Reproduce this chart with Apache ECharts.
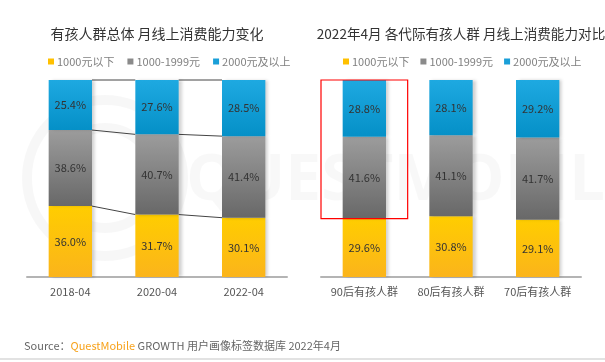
<!DOCTYPE html>
<html><head><meta charset="utf-8">
<script src="https://cdn.jsdelivr.net/npm/echarts@6/dist/echarts.min.js"></script>
<style>html,body{margin:0;padding:0;background:#fff}#c{width:605px;height:362px}</style>
</head><body><div id="c"></div>
<script>
var seriesNames = ['1000元以下', '1000-1999元', '2000元及以上'];
var leftCategories = ['2018-04', '2020-04', '2022-04'];
var leftLow = [36.0, 31.7, 30.1];
var leftMid = [38.6, 40.7, 41.4];
var leftHigh = [25.4, 27.6, 28.5];
var rightCategories = ['90后有孩人群', '80后有孩人群', '70后有孩人群'];
var rightLow = [29.6, 30.8, 29.1];
var rightMid = [41.6, 41.1, 41.7];
var rightHigh = [28.8, 28.1, 29.2];
var highlightIndex = 0;

var FONT = '"Noto Sans CJK SC", "Noto Sans", sans-serif';
function grad(a, b) {
  return new echarts.graphic.LinearGradient(0, 0, 0, 1, [{offset: 0, color: a}, {offset: 1, color: b}]);
}
var fills = [grad('#ffcd00', '#fbb41b'), grad('#9c9c9c', '#686868'), grad('#1ea9e1', '#0590c7')];
var solid = ['#ffc000', '#8a8a8a', '#1a9fd8'];

function barSeries(name, data, k, axisIdx) {
  return {
    type: 'bar', name: name, stack: 's' + axisIdx, xAxisIndex: axisIdx, yAxisIndex: axisIdx,
    barWidth: '50%', data: data,
    itemStyle: {color: fills[k], shadowColor: 'rgba(0,0,0,0.18)', shadowBlur: 3, shadowOffsetX: 3},
    label: {show: true, position: 'inside', fontFamily: FONT, fontSize: 11, color: '#333',
      formatter: function (p) { return p.value.toFixed(1) + '%'; }},
    z: 3
  };
}

var connData = [];
for (var i = 0; i < leftCategories.length - 1; i++) {
  connData.push([i, leftLow[i], leftLow[i] + leftMid[i], leftLow[i] + leftMid[i] + leftHigh[i],
                 leftLow[i + 1], leftLow[i + 1] + leftMid[i + 1], leftLow[i + 1] + leftMid[i + 1] + leftHigh[i + 1]]);
}

var option = {
  animation: false,
  title: [
    {text: '有孩人群总体 月线上消费能力变化', left: 152, textAlign: 'center', top: 22,
      textStyle: {fontFamily: FONT, fontSize: 14, fontWeight: 'normal', color: '#333'}},
    {text: '2022年4月 各代际有孩人群 月线上消费能力对比', left: 456, textAlign: 'center', top: 22,
      textStyle: {fontFamily: FONT, fontSize: 13.6, fontWeight: 'normal', color: '#333'}}
  ],
  legend: [
    {left: 43, top: 51, itemWidth: 6, itemHeight: 6, itemGap: 13, icon: 'rect',
      textStyle: {fontFamily: FONT, fontSize: 11, color: '#808080', padding: [0, 0, 0, -2]},
      data: seriesNames.map(function (n, k) { return {name: n, itemStyle: {color: solid[k]}}; })},
    {left: 338, top: 51, itemWidth: 6, itemHeight: 6, itemGap: 11, icon: 'rect',
      textStyle: {fontFamily: FONT, fontSize: 11, color: '#808080', padding: [0, 0, 0, -2]},
      data: seriesNames.map(function (n, k) { return {name: n, itemStyle: {color: solid[k]}}; })}
  ],
  grid: [
    {left: 27, width: 260, top: 80, height: 197},
    {left: 321, width: 260, top: 80, height: 197}
  ],
  xAxis: [0, 1].map(function (g) {
    return {type: 'category', gridIndex: g, data: g === 0 ? leftCategories : rightCategories,
      axisLine: {lineStyle: {color: '#b4b4b4', width: 2}}, axisTick: {show: false},
      axisLabel: {interval: 0, fontFamily: FONT, fontSize: 11, color: '#555', margin: 9}};
  }),
  yAxis: [0, 1].map(function (g) {
    return {type: 'value', gridIndex: g, min: 0, max: 100, show: false, splitLine: {show: false}};
  }),
  graphic: [
    {type: 'circle', shape: {cx: 105, cy: 178, r: 78}, style: {fill: 'none', stroke: 'rgba(0,0,0,0.03)', lineWidth: 10}, z: -10},
    {type: 'circle', shape: {cx: 105, cy: 178, r: 50}, style: {fill: 'none', stroke: 'rgba(0,0,0,0.03)', lineWidth: 10}, z: -10},
    {type: 'text', left: 186, top: 150, z: -10,
      style: {text: 'QUESTMOBILE', fontFamily: '"Open Sans", sans-serif', fontSize: 64, fontWeight: 'bold', fill: 'rgba(0,0,0,0.028)'}},
    {type: 'text', left: 24, top: 340,
      style: {rich: {a: {fontFamily: FONT, fontSize: 11, fill: '#666'}, b: {fontFamily: FONT, fontSize: 11, fill: '#f7a21b'}},
        text: '{a|Source：}{b|QuestMobile}{a| GROWTH 用户画像标签数据库 2022年4月}'}},
    {type: 'rect', shape: {x: 0, y: 358, width: 605, height: 2}, style: {fill: '#e2e2e2'}}
  ],
  series: [
    barSeries(seriesNames[0], leftLow, 0, 0),
    barSeries(seriesNames[1], leftMid, 1, 0),
    barSeries(seriesNames[2], leftHigh, 2, 0),
    barSeries(seriesNames[0], rightLow, 0, 1),
    barSeries(seriesNames[1], rightMid, 1, 1),
    barSeries(seriesNames[2], rightHigh, 2, 1),
    {type: 'custom', xAxisIndex: 0, yAxisIndex: 0, data: connData, z: 2, silent: true,
      renderItem: function (params, api) {
        var idx = api.value(0);
        var half = api.size([1, 0])[0] * 0.25;
        var kids = [];
        for (var j = 0; j < 3; j++) {
          var p1 = api.coord([idx, api.value(1 + j)]);
          var p2 = api.coord([idx + 1, api.value(4 + j)]);
          kids.push({type: 'line', shape: {x1: p1[0] + half, y1: p1[1], x2: p2[0] - half, y2: p2[1]},
            style: {stroke: '#444', lineWidth: 1}});
        }
        return {type: 'group', children: kids};
      }},
    {type: 'custom', xAxisIndex: 1, yAxisIndex: 1, z: 5, silent: true,
      data: [[highlightIndex, rightLow[highlightIndex], rightLow[highlightIndex] + rightMid[highlightIndex] + rightHigh[highlightIndex]]],
      renderItem: function (params, api) {
        var band = api.size([1, 0])[0];
        var p1 = api.coord([api.value(0), api.value(1)]);
        var p2 = api.coord([api.value(0), api.value(2)]);
        return {type: 'rect', shape: {x: p1[0] - band / 2, y: p2[1], width: band, height: p1[1] - p2[1]},
          style: {fill: 'none', stroke: '#ff0000', lineWidth: 1.2}};
      }}
  ]
};
echarts.init(document.getElementById('c')).setOption(option);
</script></body></html>
